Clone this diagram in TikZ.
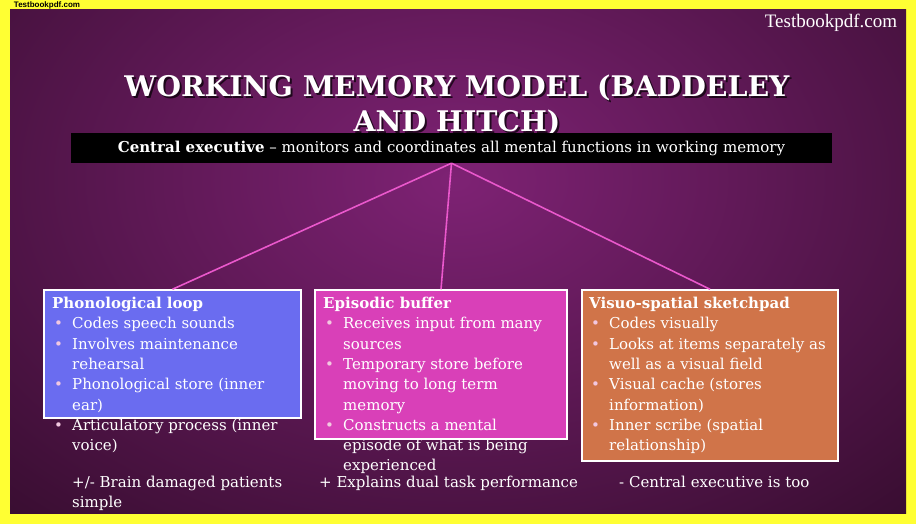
\documentclass[tikz,border=0pt]{standalone}
\usepackage{fontspec}
\setmainfont{DejaVu Serif}
\newfontfamily\markfont{Liberation Serif}
\newfontfamily\tinymarkfont{Liberation Sans}
\usepackage{tikz}

\definecolor{framecol}{HTML}{FFFF33}
\definecolor{bgdark}{HTML}{200619}
\definecolor{bglight}{HTML}{7E2274}
\definecolor{phonocol}{HTML}{6A6CF0}
\definecolor{episocol}{HTML}{D940B8}
\definecolor{visuocol}{HTML}{D07449}
\definecolor{linkcol}{HTML}{EA58CC}
\definecolor{bulletcol}{HTML}{F2C8E0}

\newcommand{\blt}{\makebox[20pt][l]{\hspace{2pt}{\color{bulletcol}\textbullet}}}
\newcommand{\wrapind}{\hspace*{20pt}}

\begin{document}
\begin{tikzpicture}[x=1pt,y=-1pt,
  box/.style={shape=rectangle,draw=white,line width=1.5pt,inner sep=0pt},
  boxtext/.style={anchor=north west,align=left,inner sep=0pt,text=white,font=\fontsize{15}{20.3}\selectfont},
  titletext/.style={align=center,inner sep=0pt,font=\bfseries\fontsize{28.4}{35}\selectfont},
  link/.style={draw=linkcol,line width=1.6pt}]
\useasboundingbox (0,0) rectangle (916,524);

% frame and background
\fill[framecol] (0,0) rectangle (916,524);
\fill[bgdark] (10,10) rectangle (906,513);
\begin{scope}
\clip (10,10) rectangle (906,513);
\shade[inner color=bglight,outer color=bgdark] (455,180) ellipse [x radius=900, y radius=620];
\end{scope}

\path (47,5) node (markleft) [inner sep=0pt,font=\tinymarkfont\bfseries\fontsize{8}{9}\selectfont] {Testbookpdf.com};
\path (831,23) node (markright) [inner sep=0pt,text=white,font=\markfont\fontsize{19}{22}\selectfont] {Testbookpdf.com};

% title
\path (459,107.5) node (titleshade) [titletext,text=black,opacity=0.7] {WORKING MEMORY MODEL (BADDELEY\\AND HITCH)};
\path (457,105.5) node (title) [titletext,text=white] {WORKING MEMORY MODEL (BADDELEY\\AND HITCH)};

\path (451.5,148) node (cexec) [fill=black,minimum width=761pt,minimum height=30pt,text=white,font=\fontsize{15}{17}\selectfont] {\textbf{Central executive} -- monitors and coordinates all mental functions in working memory};

% the three stores
\path (172.5,354) node (phono) [box,fill=phonocol,minimum width=257pt,minimum height=128pt] {};
\path (441,364.5) node (episo) [box,fill=episocol,minimum width=252pt,minimum height=149pt] {};
\path (710,375.5) node (visuo) [box,fill=visuocol,minimum width=256pt,minimum height=171pt] {};

\draw [link] (cexec.south) to (phono.north);
\draw [link] (cexec.south) to (episo.north);
\draw [link] (cexec.south) to (visuo.north);

\path (52,297) node (phonotext) [boxtext] {\textbf{Phonological loop}\\
\blt Codes speech sounds\\
\blt Involves maintenance\\
\wrapind rehearsal\\
\blt Phonological store (inner\\
\wrapind ear)\\
\blt Articulatory process (inner\\
\wrapind voice)};
\path (323,297) node (episotext) [boxtext] {\textbf{Episodic buffer}\\
\blt Receives input from many\\
\wrapind sources\\
\blt Temporary store before\\
\wrapind moving to long term\\
\wrapind memory\\
\blt Constructs a mental\\
\wrapind episode of what is being\\
\wrapind experienced};
\path (589,297) node (visuotext) [boxtext] {\textbf{Visuo-spatial sketchpad}\\
\blt Codes visually\\
\blt Looks at items separately as\\
\wrapind well as a visual field\\
\blt Visual cache (stores\\
\wrapind information)\\
\blt Inner scribe (spatial\\
\wrapind relationship)};

% evaluation notes
\path (72,476) node (phononote) [boxtext] {+/- Brain damaged patients\\simple};
\path (319,476) node (episonote) [boxtext] {+ Explains dual task performance};
\path (619,476) node (visuonote) [boxtext] {- Central executive is too};
\end{tikzpicture}
\end{document}
